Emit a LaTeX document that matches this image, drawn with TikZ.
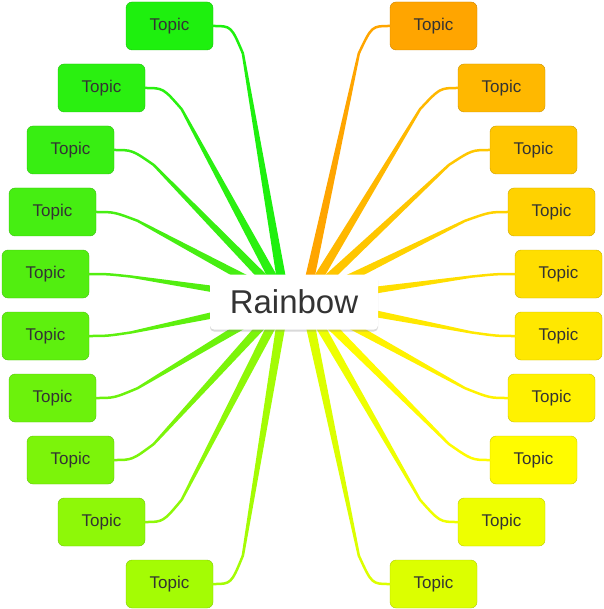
\documentclass[tikz,border=0pt]{standalone}
\usepackage{fontspec}
\setmainfont{Liberation Sans}
\usetikzlibrary{calc,shadows}
\definecolor{L1}{HTML}{1EF00E}\definecolor{L2}{HTML}{2AF010}
\definecolor{L3}{HTML}{38EE12}\definecolor{L4}{HTML}{46EE12}
\definecolor{L5}{HTML}{52EE10}\definecolor{L6}{HTML}{5EF00E}
\definecolor{L7}{HTML}{6CF20C}\definecolor{L8}{HTML}{7CF40A}
\definecolor{L9}{HTML}{8EF808}\definecolor{L10}{HTML}{A4FC04}
\definecolor{R1}{HTML}{FFA500}\definecolor{R2}{HTML}{FFB800}
\definecolor{R3}{HTML}{FFC600}\definecolor{R4}{HTML}{FFD200}
\definecolor{R5}{HTML}{FFDE00}\definecolor{R6}{HTML}{FFE800}
\definecolor{R7}{HTML}{FFF200}\definecolor{R8}{HTML}{FFFC00}
\definecolor{R9}{HTML}{EEFF00}\definecolor{R10}{HTML}{DCFF00}

\begin{document}
\begin{tikzpicture}[x=1pt,y=-1pt,
            topic/.style={draw,rounded corners=6pt,minimum width=87pt,minimum height=48pt,
              inner sep=0pt,font=\fontsize{17}{19}\selectfont,text=black!80},
            root/.style={fill=white,rounded corners=4pt,minimum width=168pt,minimum height=55pt,
              font=\fontsize{33}{36}\selectfont,text=black!80,
              drop shadow={shadow xshift=0pt,shadow yshift=-2pt,opacity=.3}},
            stem/.style={line width=2.5pt,line cap=round}
          ]
          \useasboundingbox (0,0) rectangle (603,609);
          \coordinate (cl) at (285,300);
          \coordinate (cr) at (305,300);

          %left side
          \foreach \i/\y/\xw in {1/26/126,2/88/58,3/150/27,4/212/9,5/274/2,6/336/2,7/398/9,8/460/27,9/522/58,10/584/126}{
            \node[topic,fill=L\i,draw=L\i!80!black] (l\i) at (\xw+43.5,\y) {Topic};
            \coordinate (pl\i) at ($(l\i.east)+(25,0)$);
            \coordinate (bl\i) at ($(pl\i)!0.1!(cl)$);
            \fill[L\i] ($(cl)!5pt!90:(bl\i)$) -- ($(cl)!5pt!-90:(bl\i)$)
              -- ($(bl\i)!1.25pt!90:(cl)$) -- ($(bl\i)!1.25pt!-90:(cl)$) -- cycle;
            \draw[stem,L\i] (l\i.east) .. controls +(18,0) .. (bl\i);
          }

          %right side
          \foreach \i/\y/\xw in {1/26/390,2/88/458,3/150/490,4/212/508,5/274/515,6/336/515,7/398/508,8/460/490,9/522/458,10/584/390}{
            \node[topic,fill=R\i,draw=R\i!80!black] (r\i) at (\xw+43.5,\y) {Topic};
            \coordinate (pr\i) at ($(r\i.west)+(-25,0)$);
            \coordinate (br\i) at ($(pr\i)!0.1!(cr)$);
            \fill[R\i] ($(cr)!5pt!90:(br\i)$) -- ($(cr)!5pt!-90:(br\i)$)
              -- ($(br\i)!1.25pt!90:(cr)$) -- ($(br\i)!1.25pt!-90:(cr)$) -- cycle;
            \draw[stem,R\i] (r\i.west) .. controls +(-18,0) .. (br\i);
          }

          \node[root] (rainbow) at (294,302) {Rainbow};
      \end{tikzpicture}
\end{document}
